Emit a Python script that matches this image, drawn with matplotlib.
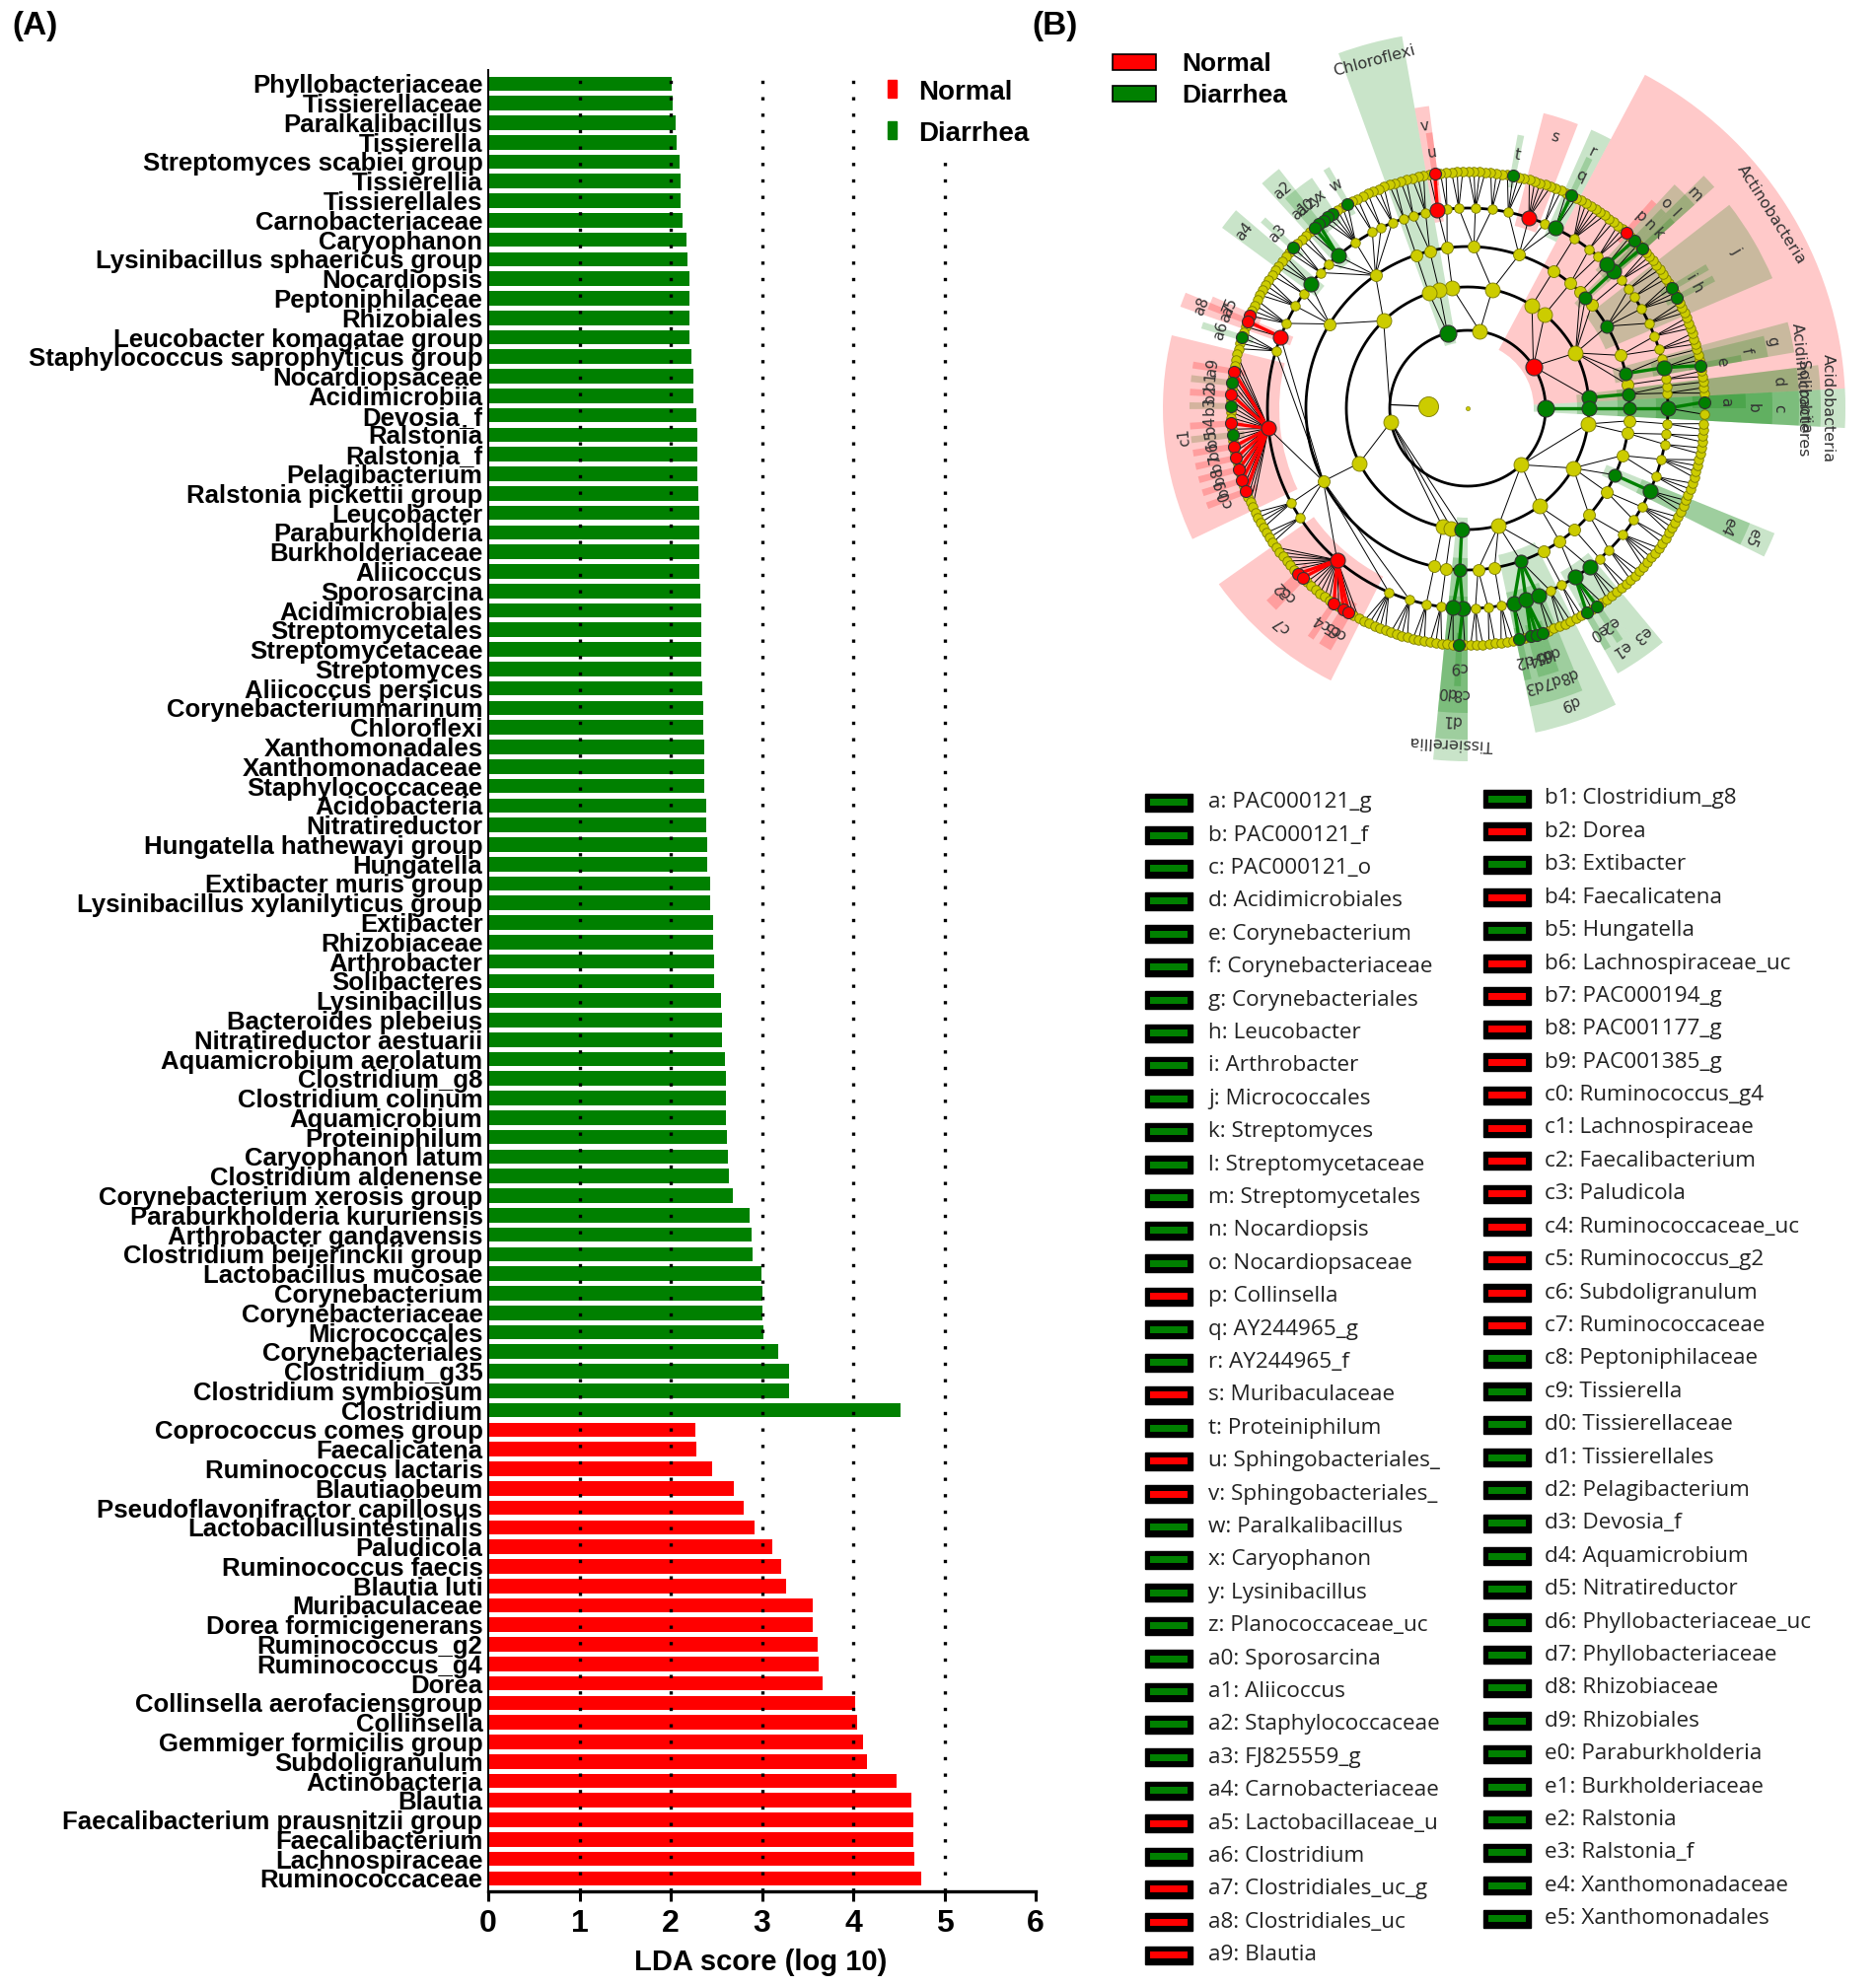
import numpy as np
import matplotlib
matplotlib.use("Agg")
import matplotlib.pyplot as plt
from matplotlib.patches import Wedge, Rectangle
from matplotlib.collections import LineCollection
from matplotlib import font_manager

# ===================== Panel A data =====================
diarrhea_taxa = [
    "Phyllobacteriaceae", "Tissierellaceae", "Paralkalibacillus", "Tissierella",
    "Streptomyces scabiei group", "Tissierellia", "Tissierellales", "Carnobacteriaceae",
    "Caryophanon", "Lysinibacillus sphaericus group", "Nocardiopsis", "Peptoniphilaceae",
    "Rhizobiales", "Leucobacter komagatae group", "Staphylococcus saprophyticus group",
    "Nocardiopsaceae", "Acidimicrobiia", "Devosia_f", "Ralstonia", "Ralstonia_f",
    "Pelagibacterium", "Ralstonia pickettii group", "Leucobacter", "Paraburkholderia",
    "Burkholderiaceae", "Aliicoccus", "Sporosarcina", "Acidimicrobiales", "Streptomycetales",
    "Streptomycetaceae", "Streptomyces", "Aliicoccus persicus", "Corynebacteriummarinum",
    "Chloroflexi", "Xanthomonadales", "Xanthomonadaceae", "Staphylococcaceae", "Acidobacteria",
    "Nitratireductor", "Hungatella hathewayi group", "Hungatella", "Extibacter muris group",
    "Lysinibacillus xylanilyticus group", "Extibacter", "Rhizobiaceae", "Arthrobacter",
    "Solibacteres", "Lysinibacillus", "Bacteroides plebeius", "Nitratireductor aestuarii",
    "Aquamicrobium aerolatum", "Clostridium_g8", "Clostridium colinum", "Aquamicrobium",
    "Proteiniphilum", "Caryophanon latum", "Clostridium aldenense",
    "Corynebacterium xerosis group", "Paraburkholderia kururiensis", "Arthrobacter gandavensis",
    "Clostridium beijerinckii group", "Lactobacillus mucosae", "Corynebacterium",
    "Corynebacteriaceae", "Micrococcales", "Corynebacteriales", "Clostridium_g35",
    "Clostridium symbiosum", "Clostridium"]
diarrhea_lda = [
    2.01, 2.02, 2.05, 2.06, 2.10, 2.11, 2.11, 2.13, 2.17, 2.18, 2.20, 2.20, 2.21, 2.21, 2.23,
    2.25, 2.25, 2.28, 2.29, 2.29, 2.29, 2.30, 2.31, 2.31, 2.31, 2.31, 2.32, 2.33, 2.34, 2.34, 2.34,
    2.35, 2.36, 2.36, 2.37, 2.37, 2.37, 2.39, 2.39, 2.40, 2.40, 2.43, 2.43, 2.46, 2.47, 2.48, 2.48,
    2.55, 2.56, 2.56, 2.59, 2.60, 2.60, 2.61, 2.62, 2.63, 2.64, 2.68, 2.86, 2.89, 2.90, 2.99, 3.00,
    3.01, 3.02, 3.18, 3.30, 3.30, 4.52]
normal_taxa = [
    "Coprococcus comes group", "Faecalicatena", "Ruminococcus lactaris", "Blautiaobeum",
    "Pseudoflavonifractor capillosus", "Lactobacillusintestinalis", "Paludicola",
    "Ruminococcus faecis", "Blautia luti", "Muribaculaceae", "Dorea formicigenerans",
    "Ruminococcus_g2", "Ruminococcus_g4", "Dorea", "Collinsella aerofaciensgroup", "Collinsella",
    "Gemmiger formicilis group", "Subdoligranulum", "Actinobacteria", "Blautia",
    "Faecalibacterium prausnitzii group", "Faecalibacterium", "Lachnospiraceae", "Ruminococcaceae"]
normal_lda = [
    2.27, 2.28, 2.45, 2.69, 2.80, 2.92, 3.11, 3.21, 3.27, 3.56, 3.56, 3.61, 3.62, 3.67,
    4.02, 4.04, 4.11, 4.15, 4.48, 4.64, 4.66, 4.66, 4.67, 4.75]
lda_ticks = [0, 1, 2, 3, 4, 5, 6]
lda_grid = [1, 2, 3, 4, 5]
groups = ["Normal", "Diarrhea"]

# ===================== Panel B data =====================
phylum_names = ["Acidobacteria", "Actinobacteria", "Bacteroidetes", "Chloroflexi",
                "Firmicutes", "Proteobacteria"]
phylum_start = [-3, 3, 62, 100, 110, 270]
phylum_end = [3, 62, 100, 110, 270, 357]
# nested: phylum -> classes -> orders -> family sizes (number of genera)
phylum_structure = [
    [[[2]]],
    [[[2, 1]], [[2], [3, 1], [3, 3], [3, 4, 2, 2], [3], [2], [2]], [[3, 2]], [[6]]],
    [[[3, 2, 5, 4], [3, 4, 3]], [[2, 2]]],
    [[[3, 2]], [[2]]],
    [[[3, 2, 2, 6, 3, 2, 3], [3, 2, 4, 4]], [[2, 4, 28, 4, 3, 20, 5, 4]], [[3]], [[3]], [[2, 2]]],
    [[[3, 2], [3], [2, 3, 2, 3], [2]], [[4, 3], [2]], [[3, 5], [2, 4], [3], [3, 4]], [[2, 2], [2]]],
]

named_labels = ["Actinobacteria", "Acidobacteria", "Chloroflexi", "Acidimicrobiia",
                "Solibacteres", "Tissierellia"]
named_levels = ["p", "p", "p", "c", "c", "c"]
named_angles = [32, 0, 105, 5, 0, 267]
named_groups = ["Normal", "Diarrhea", "Diarrhea", "Diarrhea", "Diarrhea", "Diarrhea"]

clade_codes = ["a", "b", "c", "d", "e", "f", "g", "h", "i", "j", "k", "l", "m", "n", "o", "p",
               "q", "r", "s", "t", "u", "v", "w", "x", "y", "z",
               "a0", "a1", "a2", "a3", "a4", "a5", "a6", "a7", "a8", "a9",
               "b1", "b2", "b3", "b4", "b5", "b6", "b7", "b8", "b9",
               "c0", "c1", "c2", "c3", "c4", "c5", "c6", "c7", "c8", "c9",
               "d0", "d1", "d2", "d3", "d4", "d5", "d6", "d7", "d8", "d9",
               "e0", "e1", "e2", "e3", "e4", "e5"]
clade_names = ["PAC000121_g", "PAC000121_f", "PAC000121_o", "Acidimicrobiales", "Corynebacterium",
               "Corynebacteriaceae", "Corynebacteriales", "Leucobacter", "Arthrobacter",
               "Micrococcales", "Streptomyces", "Streptomycetaceae", "Streptomycetales",
               "Nocardiopsis", "Nocardiopsaceae", "Collinsella", "AY244965_g", "AY244965_f",
               "Muribaculaceae", "Proteiniphilum", "Sphingobacteriales_", "Sphingobacteriales_",
               "Paralkalibacillus", "Caryophanon", "Lysinibacillus", "Planococcaceae_uc",
               "Sporosarcina", "Aliicoccus", "Staphylococcaceae", "FJ825559_g", "Carnobacteriaceae",
               "Lactobacillaceae_u", "Clostridium", "Clostridiales_uc_g", "Clostridiales_uc",
               "Blautia",
               "Clostridium_g8", "Dorea", "Extibacter", "Faecalicatena", "Hungatella",
               "Lachnospiraceae_uc", "PAC000194_g", "PAC001177_g", "PAC001385_g",
               "Ruminococcus_g4", "Lachnospiraceae", "Faecalibacterium", "Paludicola",
               "Ruminococcaceae_uc", "Ruminococcus_g2", "Subdoligranulum", "Ruminococcaceae",
               "Peptoniphilaceae", "Tissierella", "Tissierellaceae", "Tissierellales",
               "Pelagibacterium", "Devosia_f", "Aquamicrobium", "Nitratireductor",
               "Phyllobacteriaceae_uc", "Phyllobacteriaceae", "Rhizobiaceae", "Rhizobiales",
               "Paraburkholderia", "Burkholderiaceae", "Ralstonia", "Ralstonia_f",
               "Xanthomonadaceae", "Xanthomonadales"]
clade_groups = (["Diarrhea"] * 15 + ["Normal"] + ["Diarrhea"] * 2 + ["Normal"] + ["Diarrhea"]
                + ["Normal"] * 2 + ["Diarrhea"] * 9 + ["Normal"] + ["Diarrhea"] + ["Normal"] * 3
                + ["Diarrhea", "Normal", "Diarrhea", "Normal", "Diarrhea", "Normal", "Normal",
                   "Normal", "Normal"]
                + ["Normal"] * 8 + ["Diarrhea"] * 2 + ["Diarrhea"] * 10 + ["Diarrhea"] * 6)
clade_levels = ["g", "f", "o", "o", "g", "f", "o", "g", "g", "o", "g", "f", "o", "g", "f", "g",
                "g", "f", "f", "g", "g", "f", "g", "g", "g", "g",
                "g", "g", "f", "g", "f", "g", "g", "g", "f", "g",
                "g", "g", "g", "g", "g", "g", "g", "g", "g",
                "g", "f", "g", "g", "g", "g", "g", "f", "f", "g",
                "f", "o", "g", "f", "g", "g", "g", "f", "f", "o",
                "g", "f", "g", "f", "f", "o"]
clade_angles = [1.5, 0, 0, 5, 10.5, 11.7, 13, 27.5, 30, 29.5, 42.6, 43, 43.5, 45.2, 46, 47.9,
                64, 64.5, 72, 79, 97.5, 98, 120.5, 124.5, 126, 127.5,
                129, 131, 130.5, 137.5, 141.5, 156.6, 163, 158.5, 159, 171,
                174, 177, 180, 183, 186, 189, 192, 195, 198,
                201, 185.8, 224, 226, 236, 238, 240, 229.3, 268.6, 268,
                265.8, 267.2, 282.5, 283.2, 285.2, 286.7, 288.1, 286.7, 290.4, 288.6,
                300.2, 302.4, 303.2, 306.6, 335.6, 335.6]

# ===================== style =====================
GREEN = "#008000"
RED = "#ff0000"
GROUP_COLOR = {"Normal": RED, "Diarrhea": GREEN}

avail = {f.name for f in font_manager.fontManager.ttflist}
SANS = "Liberation Sans" if "Liberation Sans" in avail else "DejaVu Sans"
NARROW = "Liberation Sans Narrow" if "Liberation Sans Narrow" in avail else SANS
LEGF = "Open Sans" if "Open Sans" in avail else "DejaVu Sans"

W, H = 1902, 2014
fig = plt.figure(figsize=(W / 100, H / 100), dpi=100)
fig.patch.set_facecolor("white")

# ===================== Panel A =====================
A_left, A_right, A_top, A_bottom = 495, 1050, 71, 1918
axA = fig.add_axes([A_left / W, 1 - A_bottom / H, (A_right - A_left) / W, (A_bottom - A_top) / H])
labels = diarrhea_taxa + normal_taxa
values = diarrhea_lda + normal_lda
colors = [GROUP_COLOR["Diarrhea"]] * len(diarrhea_taxa) + [GROUP_COLOR["Normal"]] * len(normal_taxa)
ypos = np.arange(len(labels))
axA.barh(ypos, values, height=0.74, color=colors, zorder=2)
for g in lda_grid:
    axA.axvline(g, color="black", lw=2.4, ls=(0, (1, 4)), zorder=3)
axA.set_xlim(lda_ticks[0], lda_ticks[-1])
axA.set_ylim(len(labels) - 1 + 0.66, -0.70)
axA.set_yticks(ypos)
axA.set_yticklabels(labels, fontsize=18.5, fontweight="bold", family=SANS)
axA.tick_params(axis="y", length=0, pad=4)
axA.set_xticks(lda_ticks)
axA.set_xticklabels([str(t) for t in lda_ticks], fontsize=23, fontweight="bold", family=NARROW)
axA.tick_params(axis="x", length=7, width=2.2, pad=6, direction="out")
for s in ["top", "right"]:
    axA.spines[s].set_visible(False)
axA.spines["left"].set_linewidth(1.4)
axA.spines["bottom"].set_linewidth(2.4)

fig.text(771 / W, 1 - 1990 / H, "LDA score (log 10)", ha="center", va="center",
         fontsize=21, fontweight="bold", family=SANS)
fig.text(12 / W, 1 - 27 / H, "(A)", ha="left", va="center", fontsize=24,
         fontweight="bold", family=SANS)
fig.text(1046 / W, 1 - 27 / H, "(B)", ha="left", va="center", fontsize=24,
         fontweight="bold", family=SANS)

# ===================== overlay in pixel coordinates =====================
ov = fig.add_axes([0, 0, 1, 1])
ov.set_xlim(0, W)
ov.set_ylim(H, 0)
ov.axis("off")
ov.patch.set_alpha(0)

# Panel A legend (white box hides the gridline behind it)
ov.add_patch(Rectangle((890, 71), 175, 92, facecolor="white", edgecolor="none", zorder=4))
for grp, yc in zip(groups, [90, 132]):
    ov.add_patch(Rectangle((900, yc - 9), 9, 18, color=GROUP_COLOR[grp], zorder=5))
    ov.text(931, yc + 4, grp, ha="left", va="center", fontsize=20, fontweight="bold",
            family=SANS, zorder=5)

# Panel B top legend
for grp, yc in zip(groups, [63, 95]):
    ov.add_patch(Rectangle((1128, yc - 8), 44, 16, facecolor=GROUP_COLOR[grp],
                           edgecolor="black", lw=1.2, zorder=5))
    ov.text(1198, yc + 2, grp, ha="left", va="center", fontsize=19, fontweight="bold",
            family=SANS, zorder=5)

# ===================== Cladogram =====================
CX, CY = 1488, 414
RAD = {"k": 40, "p": 79, "c": 123, "o": 164, "f": 203, "g": 240}
LABR = {"p": 365, "c": 340, "o": 316, "f": 289, "g": 262}


def pt(r, ang):
    a = np.deg2rad(ang)
    return CX + r * np.cos(a), CY - r * np.sin(a)


nodes = []


def add(level, parent, step):
    nodes.append({"level": level, "parent": parent, "leaves": [], "step": step})
    return len(nodes) - 1


kingdom = add("k", None, 1.4)
for a0, a1, struct in zip(phylum_start, phylum_end, phylum_structure):
    n_leaves = sum(sum(sum(order) for order in cls) for cls in struct)
    step = (a1 - a0) / n_leaves
    it = iter([a0 + (i + 0.5) * step for i in range(n_leaves)])
    pnode = add("p", kingdom, step)
    for cls in struct:
        cnode = add("c", pnode, step)
        for order in cls:
            onode = add("o", cnode, step)
            for fam in order:
                fnode = add("f", onode, step)
                for _ in range(fam):
                    gnode = add("g", fnode, step)
                    ang = next(it)
                    for anc in (gnode, fnode, onode, cnode, pnode, kingdom):
                        nodes[anc]["leaves"].append(ang)
for nd in nodes:
    nd["angle"] = 0.5 * (min(nd["leaves"]) + max(nd["leaves"]))
    nd["xy"] = pt(RAD[nd["level"]], nd["angle"])


def nearest(level, ang):
    best, bd = None, 1e9
    for i, nd in enumerate(nodes):
        if nd["level"] != level:
            continue
        d = abs((nd["angle"] - ang + 180) % 360 - 180)
        if d < bd:
            best, bd = i, d
    return best


# biomarkers
bm_label = named_labels + clade_codes
bm_level = named_levels + clade_levels
bm_angle = named_angles + clade_angles
bm_group = named_groups + clade_groups
bm_named = [True] * len(named_labels) + [False] * len(clade_codes)

highlight = {}
for lab, lvl, ang, grp, named in zip(bm_label, bm_level, bm_angle, bm_group, bm_named):
    idx = nearest(lvl, ang)
    nd = nodes[idx]
    col = GROUP_COLOR[grp]
    highlight[idx] = col
    lo = min(nd["leaves"]) - nd["step"] / 2
    hi = max(nd["leaves"]) + nd["step"] / 2
    r_in = RAD[lvl] - 12
    r_out = LABR[lvl] + (18 if named else 20)
    ov.add_patch(Wedge((CX, CY), r_out, -hi, -lo, width=r_out - r_in, facecolor=col,
                       alpha=0.21, edgecolor="none", zorder=0.5))
    tx, ty = pt(LABR[lvl], nd["angle"])
    ov.text(tx, ty, lab, rotation=nd["angle"] - 90, rotation_mode="anchor", ha="center",
            va="center", fontsize=11.5 if named else 11, color="#333333", family="DejaVu Sans",
            zorder=8)

# concentric arcs
theta = np.linspace(0, 2 * np.pi, 721)
for lvl in ["p", "c", "o", "f"]:
    r = RAD[lvl]
    ov.plot(CX + r * np.cos(theta), CY - r * np.sin(theta), color="black", lw=2.0, zorder=1)

# edges: coloured only when both ends are biomarkers of the same group
segs = []
hsegs, hcols = [], []
for i, nd in enumerate(nodes):
    par = nd["parent"]
    if par is None or nodes[par]["level"] == "k":
        continue
    seg = [nodes[par]["xy"], nd["xy"]]
    if i in highlight and highlight.get(par) == highlight[i]:
        hsegs.append(seg)
        hcols.append(highlight[i])
    else:
        segs.append(seg)
ov.add_collection(LineCollection(segs, colors="black", linewidths=0.7, zorder=2))
ov.add_collection(LineCollection(hsegs, colors=hcols, linewidths=2.4, zorder=4))
kx0, ky0 = nodes[kingdom]["xy"]
kx1, ky1 = pt(RAD["p"], nodes[kingdom]["angle"])
ov.plot([kx0, kx1], [ky0, ky1], color="black", lw=0.9, zorder=2)

# nodes
YEL_D = {"k": 20, "p": 15, "c": 15, "o": 12, "f": 9.5, "g": 9.5}
HIL_D = {"p": 17, "c": 15, "o": 13, "f": 15, "g": 12}
for lvl in ["g", "f", "o", "c", "p", "k"]:
    xs, ys = [], []
    for i, nd in enumerate(nodes):
        if nd["level"] == lvl and i not in highlight:
            xs.append(nd["xy"][0]); ys.append(nd["xy"][1])
    ov.scatter(xs, ys, s=(YEL_D[lvl] * 0.72) ** 2, facecolor="#cccc00", edgecolor="#7a7a00",
               linewidth=0.6, zorder=3)
for i, col in highlight.items():
    nd = nodes[i]
    ov.scatter([nd["xy"][0]], [nd["xy"][1]], s=(HIL_D[nd["level"]] * 0.72) ** 2,
               facecolor=col, edgecolor="#333333", linewidth=0.8, zorder=5)
ov.scatter([CX], [CY], s=9, facecolor="#cccc00", edgecolor="#7a7a00", linewidth=0.4, zorder=3)

# ===================== Panel B bottom legend =====================
n1 = 36
for k, (code, name, grp) in enumerate(zip(clade_codes, clade_names, clade_groups)):
    if k < n1:
        bx, tx, yc = 1161, 1225, 813.7 + k * 33.4
    else:
        bx, tx, yc = 1504, 1566, 810 + (k - n1) * 33.4
    ov.add_patch(Rectangle((bx, yc - 9), 48, 18, facecolor="black", edgecolor="black", zorder=5))
    ov.add_patch(Rectangle((bx + 5, yc - 3.5), 38, 7, facecolor=GROUP_COLOR[grp],
                           edgecolor="none", zorder=6))
    ov.text(tx, yc, f"{code}: {name}", ha="left", va="center", fontsize=16.2, family=LEGF,
            color="#222222", zorder=6)

fig.savefig("out.png", dpi=100, facecolor="white")
